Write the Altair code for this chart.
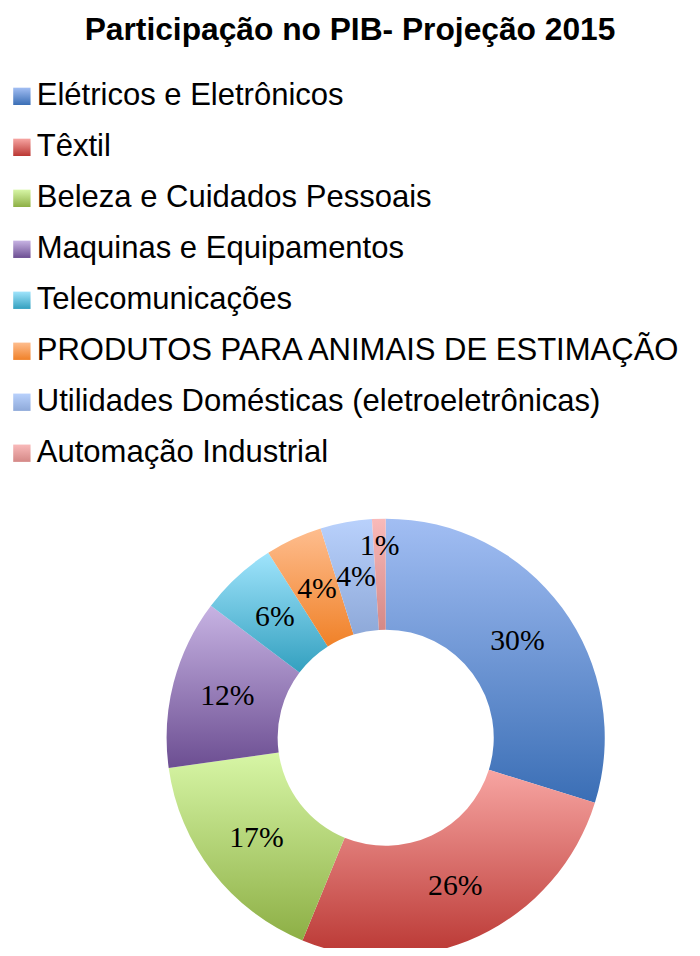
import altair as alt
import pandas as pd

categorias = [
    "Elétricos e Eletrônicos",
    "Têxtil",
    "Beleza e Cuidados Pessoais",
    "Maquinas e Equipamentos",
    "Telecomunicações",
    "PRODUTOS PARA ANIMAIS DE ESTIMAÇÃO",
    "Utilidades Domésticas (eletroeletrônicas)",
    "Automação Industrial",
]
valores = [29.8, 26.4, 16.6, 12.5, 5.7, 4.2, 3.8, 1.0]
rotulos = ["30%", "26%", "17%", "12%", "6%", "4%", "4%", "1%"]
cores_claras = ["#A2BEF3", "#F7A5A2", "#D7F6A6", "#C7B3E3", "#A0E4FC", "#FEBD8E", "#B9D1FC", "#F9BABA"]
cores_escuras = ["#3A6EB5", "#BA3733", "#8DAF45", "#6C4E92", "#33A0BF", "#F08128", "#8EA9D9", "#D48886"]

df = pd.DataFrame({
    "categoria": categorias,
    "valor": valores,
    "rotulo": rotulos,
    "ordem": list(range(len(categorias))),
})

CX, CY = 381, 692
R_OUT, R_IN, R_LAB = 221, 109, 165

base = alt.Chart(df).transform_window(
    fim="sum(valor)", sort=[alt.SortField("ordem")], frame=[None, 0]
).transform_calculate(
    inicio="datum.fim - datum.valor",
    meio="datum.fim - datum.valor / 2",
)

theta_scale = alt.Scale(domain=[0, 100], range=[0, 6.283185307])
y_scale = alt.Scale(type="point", domain=categorias, range=[45, 405], padding=0)


def grad(c1, c2):
    return alt.LinearGradient(
        gradient="linear",
        stops=[alt.GradientStop(color=c1, offset=0), alt.GradientStop(color=c2, offset=1)],
        x1=0, x2=0, y1=0, y2=1,
    )


layers = []
for cat, c1, c2 in zip(categorias, cores_claras, cores_escuras):
    g = grad(c1, c2)
    arc = base.transform_filter(alt.datum.categoria == cat).mark_arc(
        radius=R_OUT, radius2=R_IN, fill=g, stroke=None
    ).encode(
        theta=alt.Theta("inicio:Q", scale=theta_scale),
        theta2="fim:Q",
        x=alt.value(CX),
        y=alt.value(CY),
    )
    sq = alt.Chart(df).transform_filter(alt.datum.categoria == cat).mark_square(
        size=306, fill=g, opacity=1, filled=True
    ).encode(
        x=alt.value(14),
        y=alt.Y("categoria:N", scale=y_scale, axis=None),
    )
    layers += [arc, sq]

legend_text = alt.Chart(df).mark_text(
    align="left", baseline="middle", font="Liberation Sans", fontSize=31.3, color="#000000"
).encode(
    x=alt.value(29),
    y=alt.Y("categoria:N", scale=y_scale, axis=None),
    text="categoria:N",
)

lab_main = base.transform_filter(alt.datum.valor >= 2).mark_text(
    radius=R_LAB, font="Liberation Serif", fontSize=30, color="#000000",
    align="center", baseline="middle",
).encode(
    theta=alt.Theta("meio:Q", scale=theta_scale),
    x=alt.value(CX),
    y=alt.value(CY),
    text="rotulo:N",
)
lab_small = base.transform_filter(alt.datum.valor < 2).mark_text(
    radius=193, font="Liberation Serif", fontSize=30, color="#000000",
    align="center", baseline="middle",
).encode(
    theta=alt.Theta("meio:Q", scale=theta_scale),
    x=alt.value(CX),
    y=alt.value(CY),
    text="rotulo:N",
)

chart = alt.layer(*layers, legend_text, lab_main, lab_small).properties(
    width=690,
    height=900,
    title=alt.TitleParams(
        "Participação no PIB- Projeção 2015",
        font="Liberation Sans", fontSize=32, fontWeight="bold", color="#000000",
        anchor="middle", offset=5,
    ),
    autosize=alt.AutoSizeParams(type="none"),
    padding={"top": 40, "left": 0, "right": 0, "bottom": 0},
).configure_view(stroke=None)

chart.save("out.html", embed_options={"renderer": "svg", "actions": False})
